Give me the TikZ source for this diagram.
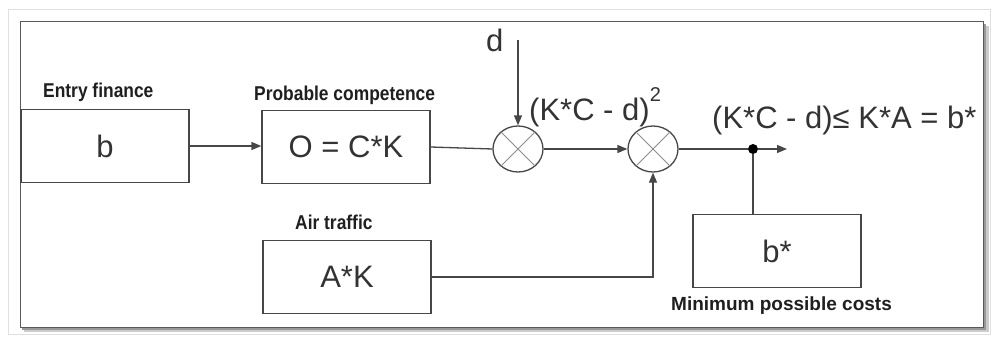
\documentclass[tikz,border=0pt]{standalone}
\usepackage{fontspec}
\setmainfont{Liberation Sans}
\usetikzlibrary{arrows.meta,shapes.geometric}
\newcommand{\condtxt}[1]{\scalebox{0.87}[1]{#1}}
\begin{document}
\begin{tikzpicture}[x=1pt,y=-1pt,
  line/.style={draw=black!72, line width=1.3pt},
  arr/.style={line, -{Triangle[length=10pt,width=8pt]}},
  blk/.style={draw=black!72, line width=1.3pt, minimum width=168pt, minimum height=73pt,
              inner sep=0pt, font=\fontsize{31}{31}\selectfont, text=black!80},
  big/.style={font=\fontsize{31}{31}\selectfont, text=black!80, inner sep=0pt, anchor=base west},
  lbl/.style={font=\fontsize{20}{20}\selectfont\bfseries, text=black!88, inner sep=0pt, anchor=base west},
  lbls/.style={font=\fontsize{19}{19}\selectfont\bfseries, text=black!88, inner sep=0pt, anchor=base west},
  mult/.style={ellipse, draw=black!72, line width=1.3pt, minimum width=50pt, minimum height=46pt, inner sep=0pt},
  cross/.style={draw=black!45, line width=0.9pt},
  dotst/.style={circle, fill=black, inner sep=0pt, minimum size=10pt}
]
% background and frame
\useasboundingbox (0,0) rectangle (993,337);
\fill[white] (0,0) rectangle (993,337);
\draw[black!12, line width=1pt] (8,10) rectangle (990,334);
\fill[black!20] (24,26) rectangle (989,332);
\fill[black!40] (22,24) rectangle (986,330);
\fill[white] (20,22) rectangle (983,327);
\draw[black!65, line width=1pt] (20,22) rectangle (983,327);

% blocks
\node[blk] (bb) at (105,146) {b};
\node[blk] (oc) at (346,147) {O = C*K};
\node[blk] (ak) at (347,277) {A*K};
\node[blk] (bs) at (777,251) {b*};

% block labels
\node[lbl] (lef) at (43,97) {\condtxt{Entry finance}};
\node[lbl] (lpc) at (254,100) {\condtxt{Probable competence}};
\node[lbl] (lat) at (295,229) {\condtxt{Air traffic}};
\node[lbls] (lmc) at (671,310) {Minimum possible costs};

% multipliers
\node[mult] (m1) at (518,149) {};
\node[mult] (m2) at (653,149) {};
\foreach \m in {m1,m2}{
  \draw[cross] (\m.45) -- (\m.225);
  \draw[cross] (\m.135) -- (\m.315);
}

% texts
\node[big] (dl) at (486,52) {d};
\node[big] (sq) at (529,120) {(K*C - d)\raisebox{19pt}{\fontsize{20}{20}\selectfont 2}};
\node[big] (res) at (712,128) {(K*C - d)≤ K*A = b*};

% junction
\node[dotst] (dot) at (753,149) {};
\coordinate (dtop) at (518,40);
\coordinate (outend) at (787,149);

% connectors
\draw[arr] (bb.east) -- (bb.east -| oc.west);
\draw[line] (oc.east) -- (m1.west);
\draw[arr] (dtop) -- (m1.north);
\draw[arr] (m1.east) -- (m2.west);
\draw[line] (m2.east) -- (dot);
\draw[arr] (dot) -- (outend);
\draw[line] (dot) -- (dot |- bs.north);
\draw[arr] (ak.east) -- (ak.east -| m2.south) -- (m2.south);
\end{tikzpicture}
\end{document}
